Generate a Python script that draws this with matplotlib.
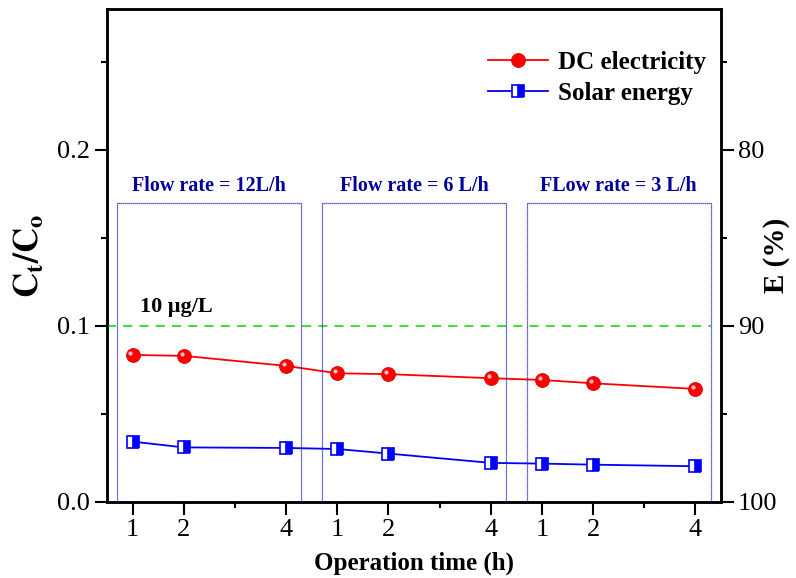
import matplotlib
matplotlib.use("Agg")
import matplotlib.pyplot as plt
from matplotlib.patches import Rectangle
from matplotlib.transforms import offset_copy

plt.rcParams.update({
    "font.family": "Liberation Serif",
    "mathtext.fontset": "stix",
    "axes.linewidth": 1.8,
})

# operation time labels, three flow-rate runs placed side by side
time_labels = ["1", "2", "4", "1", "2", "4", "1", "2", "4"]
x_pos = [1, 2, 4, 5, 6, 8, 9, 10, 12]
dc_elec = [0.0835, 0.0830, 0.0773, 0.0731, 0.0726, 0.0703, 0.0693, 0.0674, 0.0642]
solar = [0.0343, 0.0310, 0.0307, 0.0301, 0.0275, 0.0222, 0.0218, 0.0212, 0.0203]
flow_labels = ["Flow rate = 12L/h", "Flow rate = 6 L/h", "FLow rate = 3 L/h"]
box_spans = [(0.7, 4.3), (4.7, 8.3), (8.7, 12.3)]
limit_value = 0.1

NAVY = "#2222bb"

fig = plt.figure(figsize=(7.96, 5.78), dpi=100)
ax = fig.add_axes([0.1344, 0.1315, 0.7714, 0.853])

ax.plot(x_pos, dc_elec, "-", color="red", lw=1.3, marker="o", ms=10,
        mfc="red", mec="#e00000", mew=0.6, label="DC electricity", zorder=4)
# small highlight on the balls
hl = offset_copy(ax.transData, fig=fig, x=-1.5, y=1.5, units="points")
ax.plot(x_pos, dc_elec, "none", marker="o", ms=3, mfc="#ffc8c8", mec="none",
        transform=hl, zorder=5)
ax.plot(x_pos, solar, "-", color="blue", lw=1.3, marker="s", ms=9,
        fillstyle="right", mfc="blue", mfcalt="white", mec="blue", mew=1.2,
        label="Solar energy", zorder=4)

ax.plot([0.5, 12.3], [limit_value, limit_value], ls=(0, (5, 4)), color="#22e022",
        lw=1.3, zorder=3)
ax.text(1.15, 0.111, "10 \u03bcg/L", fontsize=16, fontweight="bold", ha="left", va="center")

for (x0, x1), lab in zip(box_spans, flow_labels):
    ax.add_patch(Rectangle((x0, 0), x1 - x0, 0.17, fill=False, ec=NAVY,
                           ls=(0, (1, 0.6)), lw=0.9, zorder=6, clip_on=False))
    ax.text((x0 + x1) / 2, 0.1795, lab, ha="center", va="center", fontsize=14.5,
            fontweight="bold", color="#00009a")

ax.set_xlim(0.5, 12.5)
ax.set_ylim(0, 0.28)
ax.set_xticks(x_pos)
ax.set_xticklabels(time_labels)
ax.set_xticks([3, 7, 11], minor=True)
ax.set_yticks([0.0, 0.1, 0.2])
ax.set_yticklabels(["0.0", "0.1", "0.2"])
ax.set_yticks([0.05, 0.15, 0.25], minor=True)
ax.tick_params(axis="both", which="major", direction="out", length=9, width=1.5,
               labelsize=19, pad=3)
ax.tick_params(axis="both", which="minor", direction="out", length=4, width=1.5)
ax.set_xlabel("Operation time (h)", fontsize=18, fontweight="bold")
ax.xaxis.set_label_coords(0.5, -0.100)
ax.set_ylabel(r"$\mathbf{C_t/C_o}$", fontsize=25)
ax.yaxis.set_label_coords(-0.100, 0.5)

# right axis: removal efficiency E = 100 - 100*C
ax2 = ax.twinx()
ax2.set_ylim(0, 0.28)
ax2.set_yticks([0.0, 0.1, 0.2])
ax2.set_yticklabels(["100", "90", "80"])
ax2.set_yticks([0.05, 0.15, 0.25], minor=True)
ax2.tick_params(axis="y", which="major", direction="out", length=9, width=1.5,
                labelsize=19, pad=3)
ax2.tick_params(axis="y", which="minor", direction="out", length=4, width=1.5)
ax2.set_ylabel("E (%)", fontsize=21, fontweight="bold")
ax2.yaxis.set_label_coords(1.068, 0.5)

leg = ax.legend(loc="upper right", bbox_to_anchor=(1.0, 0.945), frameon=False,
                prop={"weight": "bold", "size": 18},
                handlelength=2.4, handletextpad=0.4, labelspacing=0.3,
                borderaxespad=0.2)

fig.savefig("out.png", dpi=100)
